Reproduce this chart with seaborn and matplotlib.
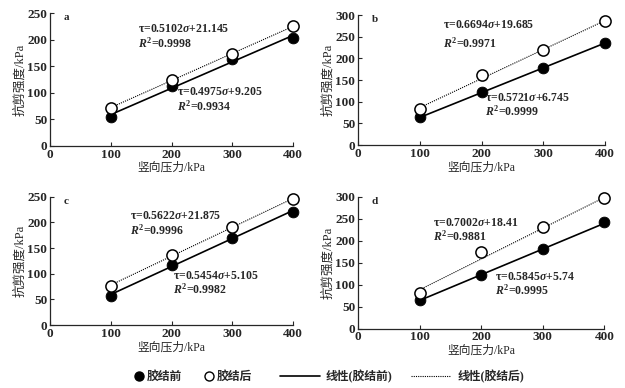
import numpy as np
import pandas as pd
import matplotlib
matplotlib.use("Agg")
import matplotlib.pyplot as plt
from matplotlib.lines import Line2D
import seaborn as sns

# ---- DATA ----
panels = ["a", "b", "c", "d"]
sigma = [100, 200, 300, 400]
before = {
    "a": [55, 113, 164, 204],
    "b": [64, 123, 179, 235],
    "c": [57, 118, 170, 221],
    "d": [65, 123, 180, 243],
}
after = {
    "a": [72, 125, 174, 225],
    "b": [84, 161, 220, 286],
    "c": [77, 136, 191, 246],
    "d": [80, 174, 231, 298],
}
slope_before = {"a": 0.4975, "b": 0.5721, "c": 0.5454, "d": 0.5845}
icpt_before = {"a": 9.205, "b": 6.745, "c": 5.105, "d": 5.74}
r2_before = {"a": "0.9934", "b": "0.9999", "c": "0.9982", "d": "0.9995"}
slope_after = {"a": 0.5102, "b": 0.6694, "c": 0.5622, "d": 0.7002}
icpt_after = {"a": "21.145", "b": "19.685", "c": "21.875", "d": "18.41"}
r2_after = {"a": "0.9998", "b": "0.9971", "c": "0.9996", "d": "0.9881"}
ymax = {"a": 250, "b": 300, "c": 250, "d": 300}

# text anchors (data coords): (x, y of eq line, y of R2 line)
txt_after = {"a": (145, 221, 193), "b": (138, 278, 234), "c": (132, 213, 184), "d": (122, 240, 210)}
txt_before = {"a": (209, 101, 74), "b": (205, 109, 79), "c": (203, 95, 70), "d": (222, 117, 87)}

rows = []
for p in panels:
    for s, b, a in zip(sigma, before[p], after[p]):
        rows.append({"panel": p, "sigma": s, "state": "胶结前", "tau": b})
        rows.append({"panel": p, "sigma": s, "state": "胶结后", "tau": a})
df = pd.DataFrame(rows)

# ---- STYLE ----
sns.set_style("ticks")
plt.rcParams["font.family"] = ["Liberation Serif", "Noto Sans CJK SC"]
plt.rcParams["font.weight"] = "bold"
plt.rcParams["mathtext.fontset"] = "custom"
plt.rcParams["mathtext.rm"] = "Liberation Serif:bold"
plt.rcParams["mathtext.it"] = "Liberation Serif:italic:bold"
plt.rcParams["xtick.direction"] = "in"
plt.rcParams["ytick.direction"] = "in"

fig = plt.figure(figsize=(6.25, 3.88), dpi=100)
boxes = {
    "a": [0.080, 0.624, 0.389, 0.342],
    "b": [0.573, 0.626, 0.395, 0.335],
    "c": [0.080, 0.162, 0.389, 0.331],
    "d": [0.573, 0.153, 0.394, 0.340],
}

for p in panels:
    ax = fig.add_axes(boxes[p])
    sub = df[df["panel"] == p]
    xs = np.array([100, 400])
    sns.lineplot(x=xs, y=slope_before[p] * xs + icpt_before[p], ax=ax,
                 color="black", lw=1.2)
    sns.lineplot(x=xs, y=slope_after[p] * xs + float(icpt_after[p]), ax=ax,
                 color="black", lw=0.8, linestyle=(0, (1, 1)))
    sns.scatterplot(data=sub[sub["state"] == "胶结前"], x="sigma", y="tau", ax=ax,
                    color="black", edgecolor="black", s=60, zorder=3)
    sns.scatterplot(data=sub[sub["state"] == "胶结后"], x="sigma", y="tau", ax=ax,
                    facecolor="white", edgecolor="black", linewidth=1.1, s=65, zorder=3)
    for coll in ax.collections:
        coll.set_clip_on(False)

    ax.set_xlim(0, 400)
    ax.set_ylim(0, ymax[p])
    ax.set_xticks([0, 100, 200, 300, 400])
    ax.set_yticks(np.arange(0, ymax[p] + 1, 50))
    ax.tick_params(labelsize=9.5, length=3, width=0.8, pad=2)
    for lab in ax.get_xticklabels() + ax.get_yticklabels():
        lab.set_fontweight("bold")
    sns.despine(ax=ax)
    for sp in ax.spines.values():
        sp.set_linewidth(0.9)
    ax.set_xlabel("竖向压力/kPa", fontsize=8.5, labelpad=1)
    ax.set_ylabel("抗剪强度/kPa", fontsize=9, labelpad=1)

    ax.text(0.055, 0.965, p, transform=ax.transAxes, fontsize=8, fontweight="bold",
            va="center", ha="left")
    x, y1, y2 = txt_after[p]
    ax.text(x, y1, f"τ={slope_after[p]}$\\it{{σ}}$+{icpt_after[p]}", fontsize=8.5,
            va="center", ha="left")
    ax.text(x, y2, f"$\\it{{R}}^2$={r2_after[p]}", fontsize=8.5, va="center", ha="left")
    x, y1, y2 = txt_before[p]
    ax.text(x, y1, f"τ={slope_before[p]}$\\it{{σ}}$+{icpt_before[p]}", fontsize=8.5,
            va="center", ha="left")
    ax.text(x, y2, f"$\\it{{R}}^2$={r2_before[p]}", fontsize=8.5, va="center", ha="left")

# ---- LEGEND (markers and lines in two groups so the handles differ in length) ----
mark_handles = [
    Line2D([], [], marker="o", ls="none", color="black", markersize=6.5),
    Line2D([], [], marker="o", ls="none", markerfacecolor="white", markeredgecolor="black",
           markeredgewidth=1.0, markersize=6.5),
]
line_handles = [
    Line2D([], [], color="black", lw=1.2),
    Line2D([], [], color="black", lw=0.8, linestyle=(0, (1, 1))),
]
leg1 = fig.legend(mark_handles, ["胶结前", "胶结后"], loc="center", bbox_to_anchor=(0.31, 0.029),
                  ncol=2, frameon=False, fontsize=8.5, handlelength=0.6, handletextpad=0.35,
                  columnspacing=2.0)
fig.legend(line_handles, ["线性(胶结前)", "线性(胶结后)"], loc="center",
           bbox_to_anchor=(0.643, 0.029), ncol=2, frameon=False, fontsize=8.5,
           handlelength=3.4, handletextpad=0.5, columnspacing=1.6)

fig.savefig("out.png", dpi=100)
